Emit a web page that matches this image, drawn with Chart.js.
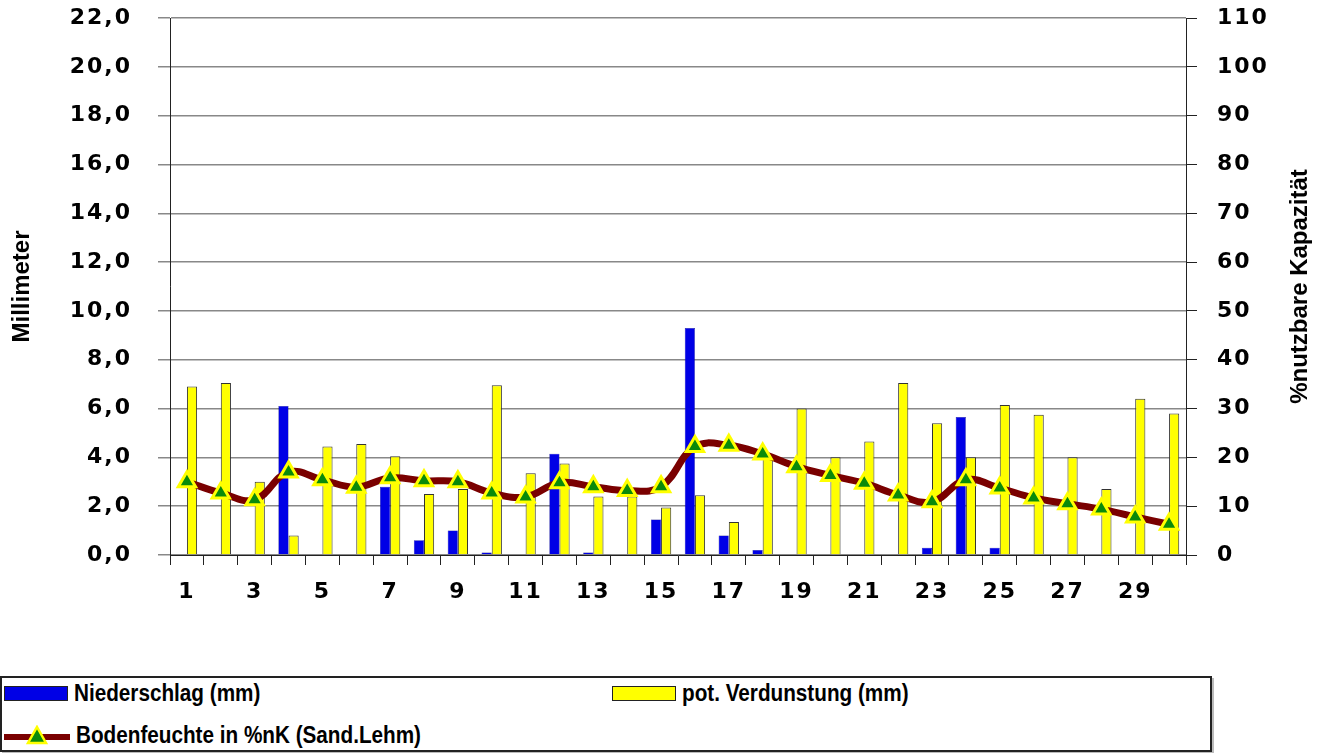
<!DOCTYPE html>
<html>
<head>
<meta charset="utf-8">
<script src="https://cdn.jsdelivr.net/npm/chart.js@4/dist/chart.umd.min.js"></script>
<style>
  html, body { margin: 0; padding: 0; background: #fff; width: 1327px; height: 753px; overflow: hidden; }
  #wrap { position: absolute; left: 0; top: 0; width: 1327px; height: 640px; }
  #legend { position: absolute; left: 0; top: 676px; width: 1208px; height: 72px; border: 2px solid #222;
            box-shadow: 2px 2px 0 #bbb; font-family: "Liberation Sans", Arial, sans-serif; font-weight: bold;
            font-size: 23px; color: #000; }
  .item { position: absolute; display: flex; align-items: center; white-space: nowrap; }
  .sw { width: 62px; height: 13px; border: 1.5px solid #222; margin-right: 6px; }
  .lbl { display: inline-block; transform: scaleX(0.9); transform-origin: left center; }
</style>
</head>
<body>
<div id="wrap"><canvas id="c" width="1327" height="640" style="width:1327px;height:640px"></canvas></div>
<div id="legend"></div>
<script>
const categories = ["1","2","3","4","5","6","7","8","9","10","11","12","13","14","15","16","17","18","19","20","21","22","23","24","25","26","27","28","29","30"];
const niederschlag = [0,0,0,6.1,0,0,2.8,0.6,1.0,0.1,0,4.15,0.1,0,1.45,9.3,0.8,0.2,0,0,0,0,0.3,5.65,0.3,0,0,0,0,0];
const verdunstung = [6.9,7.05,3.0,0.8,4.45,4.55,4.05,2.5,2.7,6.95,3.35,3.75,2.4,2.4,1.95,2.45,1.35,4.0,6.0,4.0,4.65,7.05,5.4,4.0,6.15,5.75,4.0,2.7,6.4,5.8];
const bodenfeuchte = [15,12.7,11.3,17,15.4,13.9,15.8,15.2,15.0,12.7,11.9,14.8,14.0,13.2,14.0,22.2,22.5,20.7,18.1,16.3,14.7,12.3,10.9,15.4,13.7,11.7,10.5,9.4,7.8,6.3];
const seriesNames = ["Niederschlag (mm)", "pot. Verdunstung (mm)", "Bodenfeuchte in %nK (Sand.Lehm)"];
const leftTitle = "Millimeter";
const rightTitle = "%nutzbare Kapazität";

const tickFont = { family: "'DejaVu Sans', Verdana, sans-serif", weight: 'bold', size: 22 };

const spacingPlugin = {
  id: 'spacing',
  beforeDraw(chart) { chart.ctx.letterSpacing = '2px'; },
  afterDraw(chart) { chart.ctx.letterSpacing = '0px'; }
};

function drawVTitle(ctx, text, x, y, size) {
  ctx.save();
  ctx.letterSpacing = '0px';
  ctx.translate(x, y);
  ctx.rotate(-Math.PI / 2);
  ctx.font = "bold " + size + "px 'Liberation Sans', Arial, sans-serif";
  ctx.fillStyle = '#000';
  ctx.textAlign = 'center';
  ctx.textBaseline = 'middle';
  ctx.fillText(text, 0, 0);
  ctx.restore();
}

const titlesPlugin = {
  id: 'axisTitles',
  afterDraw(chart) {
    const area = chart.chartArea;
    const cy = (area.top + area.bottom) / 2;
    drawVTitle(chart.ctx, leftTitle, 22, cy, 24);
    drawVTitle(chart.ctx, rightTitle, 1300, cy, 24);
  }
};

function fixV(width) {
  return (s) => { s.width = width; s.paddingTop = 0; s.paddingBottom = 0; };
}

const chart = new Chart(document.getElementById('c'), {
  type: 'bar',
  data: {
    labels: categories,
    datasets: [
      { type: 'line', label: seriesNames[2], data: bodenfeuchte, yAxisID: 'y1', order: 0,
        borderColor: '#7a0000', borderWidth: 7, tension: 0.4, fill: false,
        pointStyle: 'triangle', pointRadius: 10, pointBackgroundColor: '#0a8a0a',
        pointBorderColor: '#ffff00', pointBorderWidth: 3 },
      { label: seriesNames[0], data: niederschlag, yAxisID: 'y', order: 1,
        backgroundColor: '#0000e6', borderColor: '#000080', borderWidth: 0.5,
        categoryPercentage: 0.6, barPercentage: 1.0 },
      { label: seriesNames[1], data: verdunstung, yAxisID: 'y', order: 2,
        backgroundColor: '#ffff00', borderColor: '#333', borderWidth: 1,
        categoryPercentage: 0.6, barPercentage: 1.0 }
    ]
  },
  options: {
    responsive: false,
    animation: false,
    devicePixelRatio: 1,
    layout: { autoPadding: false, padding: { left: 8, right: 0, top: 18, bottom: 0 } },
    plugins: { legend: { display: false }, tooltip: { enabled: false } },
    scales: {
      x: {
        offset: true,
        grid: { offset: true, drawOnChartArea: false, tickLength: 10, color: '#222', lineWidth: 1 },
        border: { color: '#222', width: 1 },
        ticks: { autoSkip: false, maxRotation: 0, minRotation: 0, padding: 14, color: '#000', font: tickFont,
                 callback: (v, i) => (i % 2 === 0 ? categories[i] : '') },
        afterFit: (s) => { s.height = 85; s.paddingLeft = 0; s.paddingRight = 0; }
      },
      y: {
        position: 'left', min: 0, max: 22,
        grid: { color: '#888', lineWidth: 1.5, tickLength: 12 },
        border: { color: '#222', width: 1 },
        ticks: { stepSize: 2, padding: 26, color: '#000', font: tickFont,
                 callback: (v) => v.toFixed(1).replace('.', ',') },
        afterFit: fixV(162)
      },
      y1: {
        position: 'right', min: 0, max: 110,
        grid: { drawOnChartArea: false, tickLength: 11, color: '#222' },
        border: { color: '#222', width: 1 },
        ticks: { stepSize: 10, padding: 20, color: '#000', font: tickFont },
        afterFit: fixV(141)
      }
    }
  },
  plugins: [spacingPlugin, titlesPlugin]
});

// HTML legend built from the dataset definitions
const lg = document.getElementById('legend');
function addItem(left, top, swatchHtml, text) {
  const d = document.createElement('div');
  d.className = 'item';
  d.style.left = left + 'px';
  d.style.top = top + 'px';
  d.innerHTML = swatchHtml;
  const s = document.createElement('span');
  s.className = 'lbl';
  s.textContent = text;
  d.appendChild(s);
  lg.appendChild(d);
}
addItem(2, 2, '<div class="sw" style="background:#0000e6"></div>', seriesNames[0]);
addItem(610, 2, '<div class="sw" style="background:#ffff00"></div>', seriesNames[1]);
addItem(2, 44, '<svg width="66" height="22" style="margin-right:6px"><line x1="0" y1="12" x2="66" y2="12" stroke="#7a0000" stroke-width="6"/><polygon points="33,2 42,18 24,18" fill="#0a8a0a" stroke="#ffff00" stroke-width="2.5"/></svg>', seriesNames[2]);
</script>
</body>
</html>
